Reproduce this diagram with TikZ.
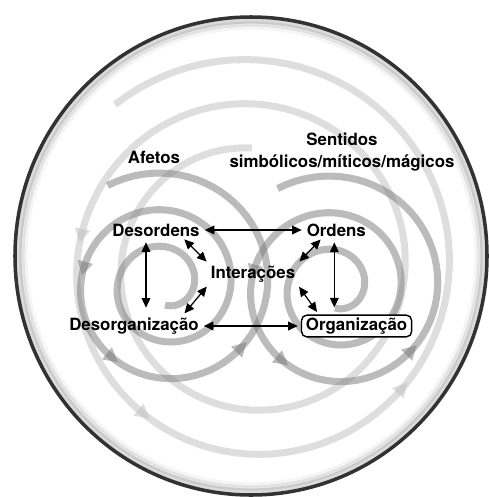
\documentclass[tikz,border=0pt]{standalone}
\usepackage{fontspec}
\setmainfont{TeX Gyre Heros}
\usetikzlibrary{arrows.meta, positioning, calc, decorations.markings}

\definecolor{ringgray}{RGB}{120,120,120}
\definecolor{hazegray}{RGB}{190,190,190}
\definecolor{rimgray}{RGB}{50,50,50}

\tikzset{
  swirl/.style={line width=4pt, draw=#1, draw opacity=0.5,
    postaction={decorate},
    decoration={markings,
      mark=at position 0.51 with {\fill[#1, opacity=0.5] (-4pt,-4.5pt) -- (4pt,0pt) -- (-4pt,4.5pt) -- cycle;},
      mark=at position 0.60 with {\fill[#1, opacity=0.5] (-4pt,-4.5pt) -- (4pt,0pt) -- (-4pt,4.5pt) -- cycle;},
      mark=at position 0.73 with {\fill[#1, opacity=0.5] (-4pt,-4.5pt) -- (4pt,0pt) -- (-4pt,4.5pt) -- cycle;}}},
}

\begin{document}
\begin{tikzpicture}[x=0.02cm, y=-0.02cm, >={Triangle[length=5.5pt,width=5pt]},
  font=\fontsize{9.6}{12.5}\selectfont\bfseries,
  lbl/.style={inner sep=1pt},
  dbl/.style={<->, line width=0.7pt, shorten <=0.06cm, shorten >=0.06cm}]
  \useasboundingbox (0,0) rectangle (489,497);

  % outer rim with a soft inner shade
  \foreach \k/\o in {10/0.04, 7/0.08, 4/0.14}
    \draw[black, opacity=\o, line width=3pt] (251,256) ellipse[x radius=236-\k, y radius=239-\k];
  \draw[rimgray, line width=2pt] (251,256) ellipse[x radius=236, y radius=239];

  % large pale spiral
  \draw[swirl=hazegray] plot[domain=450:1210, samples=200]
    ({252+(120+0.1227*(\x-450))*cos(\x)}, {268-(120+0.1227*(\x-450))*sin(\x)});

  % the two spirals
  \draw[swirl=ringgray] plot[domain=270:1200, samples=200]
    ({165+(20+0.102*(\x-270))*cos(\x)}, {285-(20+0.102*(\x-270))*sin(\x)});
  \draw[swirl=ringgray] plot[domain=270:1200, samples=200]
    ({335+(20+0.102*(\x-270))*cos(\x)}, {288-(20+0.102*(\x-270))*sin(\x)});

  % labels
  \node[lbl] (Af) at (154,157) {Afetos};
  \node[lbl, align=center] (Se) at (342,152) {Sentidos\\simbólicos/míticos/mágicos};
  \node[lbl] (Dd) at (156,230) {Desordens};
  \node[lbl, right=2.06cm of Dd] (Od) {Ordens};
  \node[lbl] (In) at (253,274) {Interações};
  \node[lbl] (Dz) at (134,326) {Desorganização};
  \node[lbl, draw, rounded corners=3pt, fill=white, line width=0.8pt,
    inner xsep=2.5pt, inner ysep=1.5pt, right=2.0cm of Dz] (Og) {Organização};

  % links
  \draw[dbl] (Dd.east) -- (Od.west);
  \draw[dbl] (Dz.east) -- (Og.west);
  \draw[dbl, shorten <=0.08cm, shorten >=0.16cm] ([xshift=-0.2cm]Dd.south) -- ([xshift=-0.2cm]Dd.south |- Dz.north);
  \draw[dbl, shorten <=0.08cm, shorten >=0.14cm] ([xshift=-0.04cm]Od.south) -- ([xshift=-0.04cm]Od.south |- Og.north);
  \draw[dbl, shorten <=0.03cm] (Dd.-17) -- (In.north west);
  \draw[dbl] (Dz.12) -- (In.south west);
  \draw[dbl, shorten <=0.03cm] (Od.-150) -- (In.north east);
  \draw[dbl] (Og.163) -- (In.south east);
\end{tikzpicture}
\end{document}
